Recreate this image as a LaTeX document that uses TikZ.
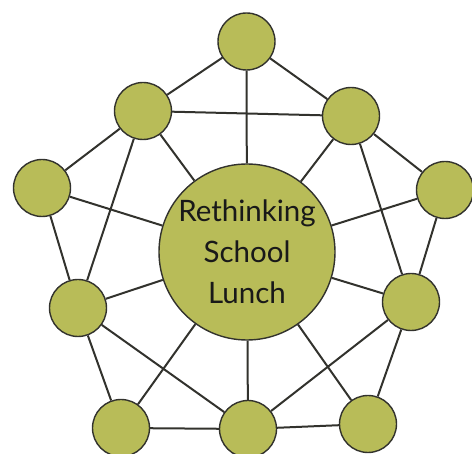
\documentclass[tikz,border=0pt]{standalone}
\usepackage{fontspec}
\setmainfont{Lato}
\definecolor{olive1}{RGB}{184,188,88}
\definecolor{edge1}{RGB}{50,50,45}
\begin{document}
\begin{tikzpicture}[x=1pt,y=-1pt,
  smallc/.style={circle,draw=edge1,line width=1.4pt,fill=olive1,minimum size=57pt,inner sep=0pt},
  bigc/.style={circle,draw=edge1,line width=1.4pt,fill=olive1,minimum size=176pt,inner sep=0pt,align=center,
    font=\fontsize{29.5}{41}\selectfont,text=black!90},
  link/.style={draw=edge1,line width=2pt}]
\useasboundingbox (0,0) rectangle (472,454);
\node[bigc] (C) at (247,252) {\raisebox{-3pt}{Rethinking}\\\raisebox{-3pt}{School}\\\raisebox{-3pt}{Lunch}};
\node[smallc] (T) at (246.5,41.5) {};
\node[smallc] (UL) at (143,111) {};
\node[smallc] (UR) at (351,116) {};
\node[smallc] (L) at (42,188) {};
\node[smallc] (R) at (445,190) {};
\node[smallc] (LL) at (78,308) {};
\node[smallc] (LR) at (411,302) {};
\node[smallc] (BL) at (121,428) {};
\node[smallc] (BM) at (248,429) {};
\node[smallc] (BR) at (368,424) {};
\foreach \a/\b in {T/UL,T/UR,T/C,UL/UR,UL/L,UL/C,UL/LL,UR/R,UR/C,UR/LR,
  L/C,L/LL,R/C,R/LR,LL/C,LL/BL,LL/BM,LR/C,LR/BR,LR/BM,C/BL,C/BM,C/BR,BL/BM,BM/BR}
  \draw[link] (\a) -- (\b);
\end{tikzpicture}
\end{document}
